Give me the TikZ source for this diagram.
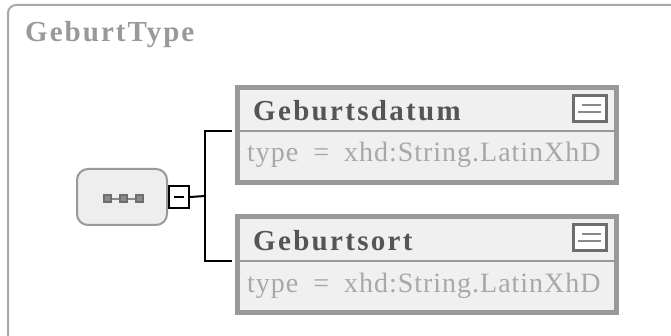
\documentclass[tikz,border=0pt]{standalone}
\usepackage{fontspec}
\usetikzlibrary{calc}
\setmainfont{Liberation Serif}
\newfontfamily\ttlfont[LetterSpace=7]{Liberation Serif}
\newfontfamily\namefont[LetterSpace=8]{Liberation Serif}
\newfontfamily\typefont[LetterSpace=3.5]{Liberation Serif}
\newcommand\mytypestyle{\typefont\fontsize{28}{30}\selectfont\spaceskip 15pt\relax}
\definecolor{frame}{HTML}{A8A8A8}
\definecolor{titletext}{HTML}{999999}
\definecolor{boxborder}{HTML}{999999}
\definecolor{boxfill}{HTML}{F0F0F0}
\definecolor{nametext}{HTML}{555555}
\definecolor{typetext}{HTML}{A8A8A8}
\definecolor{seqfill}{HTML}{EEEEEE}
\definecolor{icondark}{HTML}{6E6E6E}
\definecolor{iconline}{HTML}{8A8A8A}
\tikzset{
  elembox/.style={draw=boxborder, line width=5pt, fill=boxfill, rectangle,
    minimum width=379pt, minimum height=95pt, inner sep=0pt, anchor=north west},
  sepline/.style={draw=boxborder, line width=2pt},
  nametxt/.style={anchor=base west, inner sep=0pt, text=nametext, font=\namefont\bfseries\fontsize{29}{31}\selectfont},
  typetxt/.style={anchor=base west, inner sep=0pt, text=typetext, font=\mytypestyle},
  iconbox/.style={draw=icondark, line width=3pt, fill=white, rectangle,
    minimum width=33pt, minimum height=26pt, inner sep=0pt, anchor=north west},
  iconln/.style={draw=iconline, line width=2pt},
  seqnode/.style={draw=boxborder, line width=2pt, fill=seqfill, rectangle, rounded corners=11pt,
    minimum width=90pt, minimum height=56pt, inner sep=0pt, anchor=north west},
  minusbox/.style={draw=black, line width=2pt, fill=white, rectangle,
    minimum width=20pt, minimum height=22pt, inner sep=0pt, anchor=north west},
  conn/.style={draw=black, line width=2pt},
  dotsq/.style={draw=icondark, line width=2pt, fill=iconline, rectangle,
    minimum size=7pt, inner sep=0pt},
  dotdash/.style={draw=iconline, line width=2pt},
}
\begin{document}
\begin{tikzpicture}[x=1pt,y=-1pt]
\useasboundingbox (0,0) rectangle (671,336);
\clip (0,0) rectangle (671,336);
% outer frame
\draw[draw=frame, line width=2pt, rounded corners=8pt] (8,5) rectangle (690,356);
\node[anchor=base west, inner sep=0pt, text=titletext, font=\ttlfont\bfseries\fontsize{29}{31}\selectfont] (title) at (25,42) {GeburtType};

% sequence node
\node[seqnode] (seq) at (76,168) {};
\node[dotsq] (d1) at (107.5,199) {};
\node[dotsq] (d2) at (123.5,199) {};
\node[dotsq] (d3) at (139.5,199) {};
\draw[dotdash] (d1) -- (d2);
\draw[dotdash] (d2) -- (d3);
\node[minusbox] (minus) at (168,185) {};
\draw[line width=2pt] ($(minus.center)+(-5,0)$) -- ($(minus.center)+(5,0)$);

% element boxes
\node[elembox] (box1) at (234.5,85.5) {};
\node[elembox] (box2) at (234.5,214.5) {};
\coordinate (sep1w) at ($(box1.north west)+(0,45.5)$);
\coordinate (sep1e) at ($(box1.north east)+(0,45.5)$);
\coordinate (sep2w) at ($(box2.north west)+(0,46.5)$);
\coordinate (sep2e) at ($(box2.north east)+(0,46.5)$);
\draw[sepline] (sep1w) -- (sep1e);
\draw[sepline] (sep2w) -- (sep2e);

\node[nametxt] (n1) at (253,121) {Geburtsdatum};
\node[typetxt] (t1) at (247,162) {type = xhd:String.LatinXhD};
\node[nametxt] (n2) at (253,251) {Geburtsort};
\node[typetxt] (t2) at (247,292) {type = xhd:String.LatinXhD};

% icons
\node[iconbox] (ic1) at (571.5,94.5) {};
\draw[iconln] ($(ic1.center)+(-8,-3.5)$) -- ($(ic1.center)+(11,-3.5)$);
\draw[iconln] ($(ic1.center)+(-12,3.5)$) -- ($(ic1.center)+(11,3.5)$);
\node[iconbox] (ic2) at (571.5,223.5) {};
\draw[iconln] ($(ic2.center)+(-8,-3.5)$) -- ($(ic2.center)+(11,-3.5)$);
\draw[iconln] ($(ic2.center)+(-12,3.5)$) -- ($(ic2.center)+(11,3.5)$);

% connectors
\coordinate (fork) at (205,196);
\draw[conn] (minus.east) -- (fork);
\draw[conn] (fork) |- ($(sep1w)+(-2.5,0)$);
\draw[conn] (fork) |- ($(sep2w)+(-2.5,0)$);
\end{tikzpicture}
\end{document}
